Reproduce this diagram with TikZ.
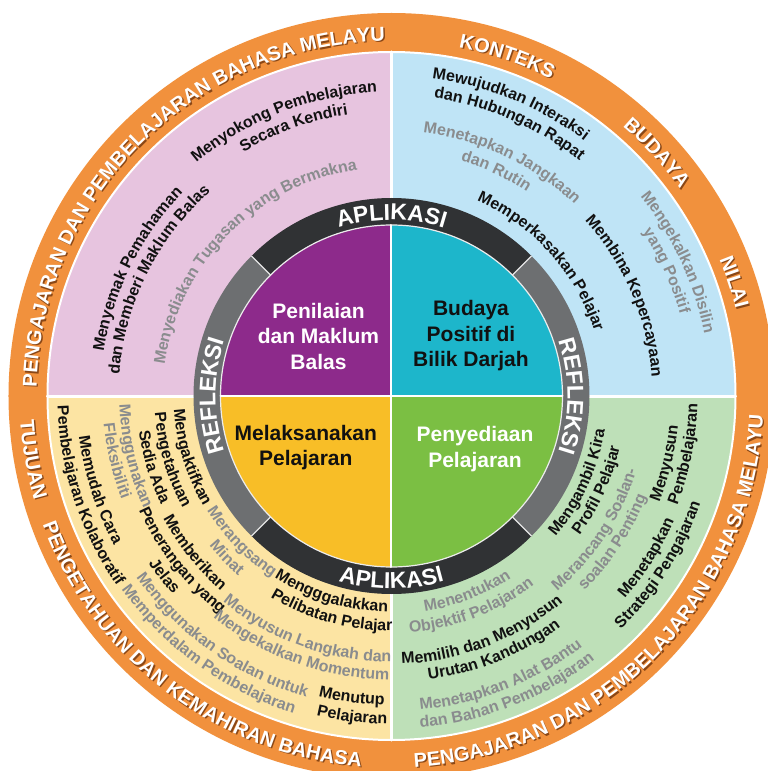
\documentclass[tikz,border=0pt]{standalone}
\usepackage{fontspec}
\setmainfont{Liberation Sans}
\usepackage{tikz}
\usetikzlibrary{decorations.text}
\definecolor{orng}{HTML}{F1913D}
\definecolor{shade}{HTML}{8A4716}
\definecolor{pinkz}{HTML}{E7C4DF}
\definecolor{skyz}{HTML}{BFE4F6}
\definecolor{creamz}{HTML}{FCE4A3}
\definecolor{mintz}{HTML}{BEE0B8}
\definecolor{purp}{HTML}{8D2A8B}
\definecolor{tealc}{HTML}{1DB6CB}
\definecolor{goldc}{HTML}{F8BE27}
\definecolor{grnc}{HTML}{7BBF43}
\definecolor{banddark}{HTML}{303234}
\definecolor{bandgray}{HTML}{6D6F71}
\definecolor{ink}{HTML}{111111}
\definecolor{txtgray}{HTML}{8A8C8E}
\newcommand{\blk}{\fontsize{16}{19}\selectfont\bfseries\color{ink}}
\newcommand{\gry}{\fontsize{16}{19}\selectfont\bfseries\color{txtgray}}
\newcommand{\bandfont}{\fontsize{23}{27}\selectfont\bfseries\color{white}}
\newcommand{\cwtext}[4]{\path[decorate,decoration={text along path,text align=center,text={|#3|#4}}] ({#2+80}:#1) arc[start angle={#2+80},end angle={#2-80},radius=#1];}
\newcommand{\ccwtext}[4]{\path[decorate,decoration={text along path,text align=center,text={|#3|#4}}] ({#2-80}:#1) arc[start angle={#2-80},end angle={#2+80},radius=#1];}
\newcommand{\ringcw}[3]{\begin{scope}[shift={(1.4,-1.4)}]\cwtext{#1}{#2}{\fontsize{20}{24}\selectfont\bfseries\color{shade}}{#3}\end{scope}\cwtext{#1}{#2}{\fontsize{20}{24}\selectfont\bfseries\color{white}}{#3}}
\newcommand{\ringccw}[3]{\begin{scope}[shift={(1.4,-1.4)}]\ccwtext{#1}{#2}{\fontsize{20}{24}\selectfont\bfseries\color{shade}}{#3}\end{scope}\ccwtext{#1}{#2}{\fontsize{20}{24}\selectfont\bfseries\color{white}}{#3}}

\begin{document}
\begin{tikzpicture}[x=1pt,y=1pt,line cap=round,line join=round,
	lab/.style={align=center,inner sep=0pt,font=\fontsize{21}{25.5}\selectfont\bfseries}]
	\clip (-391.5,-375) rectangle (376.5,396);
	\fill[white] (-391.5,-375) rectangle (376.5,396);
	\fill[orng] (0,0) circle (383);
	\foreach \a/\c in {0/skyz,90/pinkz,180/creamz,270/mintz}
	\fill[\c] (0,0) -- (\a:344) arc[start angle=\a,end angle=\a+90,radius=344] -- cycle;
	\draw[white,line width=2] (0,0) circle (344);
	\foreach \a in {0,90,180,270}
	\draw[white,line width=3] (\a:190) -- (\a:344);
	\foreach \a/\c in {45/banddark,135/bandgray,225/banddark,315/bandgray}
	\fill[\c] (\a:171) arc[start angle=\a,end angle=\a+90,radius=171] -- ({\a+90}:198) arc[start angle=\a+90,end angle=\a,radius=198] -- cycle;
	\foreach \a in {45,135,225,315}
	\draw[white!80!gray,line width=1.2] (\a:171) -- (\a:198);
	\foreach \a/\c in {0/tealc,90/purp,180/goldc,270/grnc}
	\fill[\c] (0,0) -- (\a:171) arc[start angle=\a,end angle=\a+90,radius=171] -- cycle;
	\draw[white!85!gray,line width=1.2] (0,0) circle (171);
	\draw[white,line width=2] (-171,0) -- (171,0);
	\draw[white,line width=2] (0,-171) -- (0,171);
	\node[lab,text=white] (assess) at (-73,60) {Penilaian\\dan Maklum\\Balas};
	\node[lab,text=ink] (culture) at (79.5,60) {Budaya\\Positif di\\Bilik Darjah};
	\node[lab,text=ink] (deliver) at (-85.7,-51.5) {Melaksanakan\\Pelajaran};
	\node[lab,text=white] (prepare) at (83.5,-53) {Penyediaan\\Pelajaran};
	\cwtext{176}{90}{\bandfont}{APLIKASI}
	\ccwtext{192.5}{270}{\bandfont}{APLIKASI}
	\cwtext{176}{180}{\bandfont}{REFLEKSI}
	\cwtext{176}{0}{\bandfont}{REFLEKSI}
	\ringcw{355}{134.8}{PENGAJARAN DAN PEMBELAJARAN BAHASA MELAYU}
	\ringcw{355}{71.2}{KONTEKS}
	\ringcw{355}{42.5}{BUDAYA}
	\ringcw{355}{18.4}{NILAI}
	\ringccw{372}{190}{TUJUAN}
	\ringccw{372}{232.8}{PENGETAHUAN DAN KEMAHIRAN BAHASA}
	\ringccw{372}{315.3}{PENGAJARAN DAN PEMBELAJARAN BAHASA MELAYU}
	\cwtext{304}{111.3}{\blk}{Menyokong Pembelajaran}
	\cwtext{285}{110}{\blk}{Secara Kendiri}
	\cwtext{291}{153.5}{\blk}{Menyemak Pemahaman}
	\cwtext{273}{153.5}{\blk}{dan Memberi Maklum Balas}
	\cwtext{229}{135.4}{\gry}{Menyediakan Tugasan yang Bermakna}
	\cwtext{320}{67.8}{\blk}{Mewujudkan Interaksi}
	\cwtext{301}{66.6}{\blk}{dan Hubungan Rapat}
	\cwtext{265}{64.7}{\gry}{Menetapkan Jangkaan}
	\cwtext{245}{65}{\gry}{dan Rutin}
	\cwtext{213}{42}{\blk}{Memperkasakan Pelajar}
	\cwtext{261}{23.2}{\blk}{Membina Kepercayaan}
	\cwtext{319}{25}{\gry}{Mengekalkan Disilin}
	\cwtext{300}{24.5}{\gry}{yang Positif}
	\ccwtext{216}{-24.8}{\blk}{Mengambil Kira}
	\ccwtext{234}{-24.6}{\blk}{Profil Pelajar}
	\ccwtext{256}{-33.2}{\gry}{Merancang Soalan-}
	\ccwtext{274}{-33.4}{\gry}{soalan Penting}
	\ccwtext{288}{-13.8}{\blk}{Menyusun}
	\ccwtext{306}{-11.2}{\blk}{Pembelajaran}
	\ccwtext{309}{-32.4}{\blk}{Menetapkan}
	\ccwtext{327}{-32.3}{\blk}{Strategi Pengajaran}
	\ccwtext{218}{-68.9}{\gry}{Menentukan}
	\ccwtext{237}{-69.3}{\gry}{Objektif Pelajaran}
	\ccwtext{268}{-69}{\blk}{Memilih dan Menyusun}
	\ccwtext{286}{-68.1}{\blk}{Urutan Kandungan}
	\ccwtext{315}{-68.7}{\gry}{Menetapkan Alat Bantu}
	\ccwtext{333}{-68.7}{\gry}{dan Bahan Pembelajaran}
	\ccwtext{218}{197}{\blk}{Mengaktifkan}
	\ccwtext{237}{196.2}{\blk}{Pengetahuan}
	\ccwtext{255}{196.6}{\blk}{Sedia Ada}
	\ccwtext{272}{193.1}{\gry}{Menggunakan}
	\ccwtext{289}{193.2}{\gry}{Fleksibiliti}
	\ccwtext{315}{197.8}{\blk}{Memudah Cara}
	\ccwtext{334}{198.2}{\blk}{Pembelajaran Kolaboratif}
	\ccwtext{217}{224.2}{\gry}{Merangsang}
	\ccwtext{236}{224.5}{\gry}{Minat}
	\ccwtext{259}{218.5}{\blk}{Memberikan}
	\ccwtext{277}{218.1}{\blk}{Penerangan yang}
	\ccwtext{295}{218.4}{\blk}{Jelas}
	\ccwtext{216}{253.1}{\blk}{Mengggalakkan}
	\ccwtext{235}{254.6}{\blk}{Pelibatan Pelajar}
	\ccwtext{266}{250.3}{\gry}{Menyusun Langkah dan}
	\ccwtext{284}{250.3}{\gry}{Mengekalkan Momentum}
	\ccwtext{313}{234.8}{\gry}{Menggunakan Soalan untuk}
	\ccwtext{332}{234.2}{\gry}{Memperdalam Pembelajaran}
	\ccwtext{309}{262.5}{\blk}{Menutup}
	\ccwtext{328}{263}{\blk}{Pelajaran}
\end{tikzpicture}
\end{document}
